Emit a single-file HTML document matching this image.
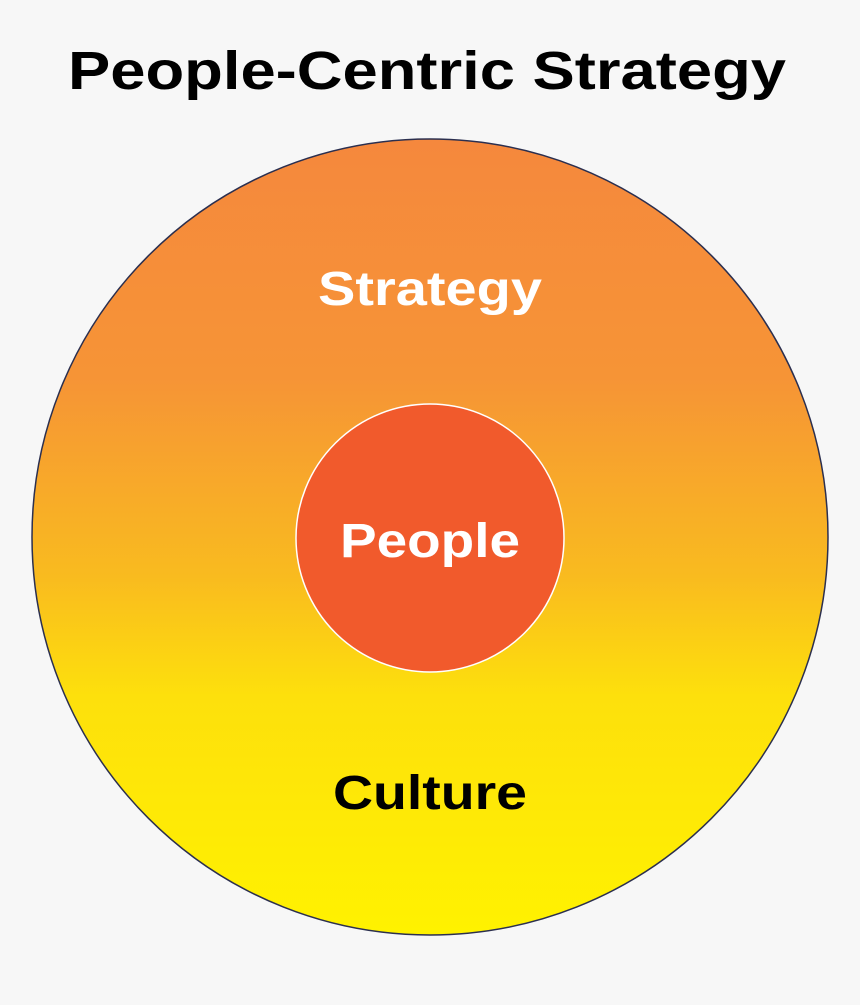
<!DOCTYPE html>
<html><head><meta charset="utf-8"><style>
html,body{margin:0;padding:0;background:#f7f7f7;}
svg{display:block;}
text{font-family:"Liberation Sans",sans-serif;font-weight:bold;}
</style></head><body>
<svg width="860" height="1005" viewBox="0 0 860 1005">
<defs>
<linearGradient id="g" x1="0" y1="0" x2="0" y2="1">
<stop offset="0" stop-color="#f5883d"/>
<stop offset="0.3" stop-color="#f69436"/>
<stop offset="0.55" stop-color="#f9bb1f"/>
<stop offset="0.7" stop-color="#fde00c"/>
<stop offset="1" stop-color="#fff200"/>
</linearGradient>
</defs>
<rect width="860" height="1005" fill="#f7f7f7"/>
<text x="427" y="89" font-size="54" text-anchor="middle" textLength="718" lengthAdjust="spacingAndGlyphs" fill="#000">People-Centric Strategy</text>
<circle cx="430" cy="537" r="398" fill="url(#g)" stroke="#2b2f4f" stroke-width="1.5"/>
<circle cx="430" cy="538" r="134" fill="#f15a2c" stroke="#ffffff" stroke-width="1.5"/>
<text x="430" y="305" font-size="48" text-anchor="middle" textLength="224" lengthAdjust="spacingAndGlyphs" fill="#fff">Strategy</text>
<text x="430" y="557" font-size="48" text-anchor="middle" textLength="180" lengthAdjust="spacingAndGlyphs" fill="#fff">People</text>
<text x="430" y="809" font-size="48" text-anchor="middle" textLength="194" lengthAdjust="spacingAndGlyphs" fill="#000">Culture</text>
</svg>
</body></html>
